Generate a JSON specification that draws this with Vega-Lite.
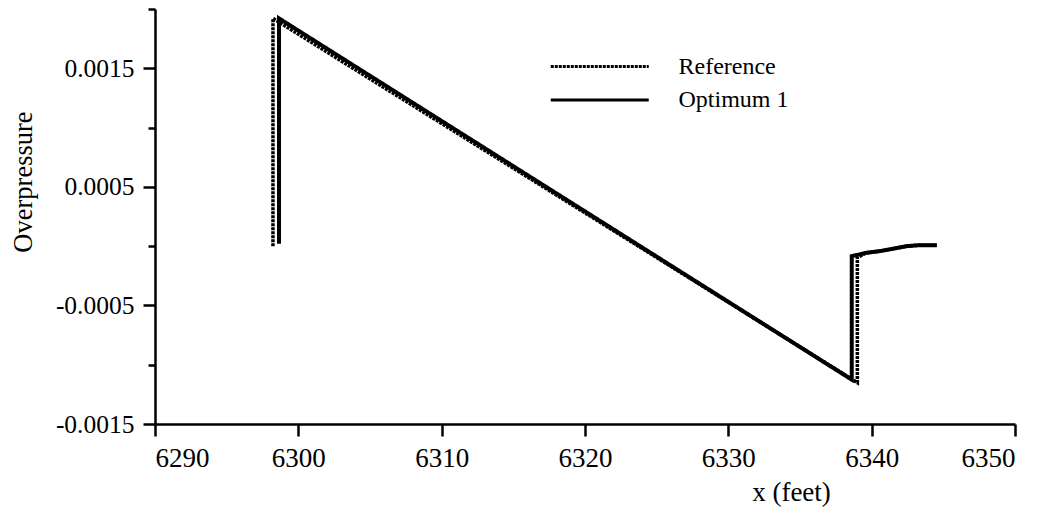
{
  "$schema": "https://vega.github.io/schema/vega-lite/v6.json",
  "autosize": {"type": "none"},
  "width": 860,
  "height": 415,
  "padding": {"left": 155, "top": 9, "right": 34, "bottom": 92},
  "background": "white",
  "config": {
    "view": {"stroke": null},
    "font": "Liberation Serif",
    "axis": {
      "domainColor": "black",
      "domainWidth": 2.5,
      "tickColor": "black",
      "tickWidth": 2.5,
      "grid": false,
      "labelColor": "black",
      "titleColor": "black",
      "labelFont": "Liberation Serif",
      "titleFont": "Liberation Serif",
      "titleFontWeight": "normal"
    }
  },
  "data": {
    "values": [
      {"series": "Reference", "i": 0, "x": 6298.23, "p": 0.0},
      {"series": "Reference", "i": 1, "x": 6298.23, "p": 0.001921},
      {"series": "Reference", "i": 2, "x": 6339.0, "p": -0.001151},
      {"series": "Reference", "i": 3, "x": 6339.0, "p": -0.000095},
      {"series": "Reference", "i": 4, "x": 6339.64, "p": -0.000056},
      {"series": "Reference", "i": 5, "x": 6340.57, "p": -0.000042},
      {"series": "Reference", "i": 6, "x": 6341.48, "p": -0.000022},
      {"series": "Reference", "i": 7, "x": 6342.44, "p": 0.0},
      {"series": "Reference", "i": 8, "x": 6343.37, "p": 0.0000084},
      {"series": "Reference", "i": 9, "x": 6344.54, "p": 0.0000084},
      {"series": "Optimum 1", "i": 0, "x": 6298.65, "p": 0.00002},
      {"series": "Optimum 1", "i": 1, "x": 6298.65, "p": 0.001921},
      {"series": "Optimum 1", "i": 2, "x": 6338.61, "p": -0.001126},
      {"series": "Optimum 1", "i": 3, "x": 6338.61, "p": -0.0000845},
      {"series": "Optimum 1", "i": 4, "x": 6339.64, "p": -0.000056},
      {"series": "Optimum 1", "i": 5, "x": 6340.57, "p": -0.000042},
      {"series": "Optimum 1", "i": 6, "x": 6341.48, "p": -0.000022},
      {"series": "Optimum 1", "i": 7, "x": 6342.44, "p": 0.0},
      {"series": "Optimum 1", "i": 8, "x": 6343.37, "p": 0.0000084},
      {"series": "Optimum 1", "i": 9, "x": 6344.54, "p": 0.0000084}
    ]
  },
  "encoding": {
    "x": {
      "field": "x",
      "type": "quantitative",
      "scale": {"domain": [6290, 6350], "nice": false, "zero": false},
      "axis": {
        "values": [6290, 6300, 6310, 6320, 6330, 6340, 6350],
        "format": "d",
        "tickSize": 12,
        "labelFontSize": 27,
        "labelBaseline": "alphabetic",
        "labelPadding": 30,
        "title": "x (feet)",
        "titleFontSize": 27,
        "titleAnchor": null,
        "titleAlign": "center",
        "titleBaseline": "alphabetic",
        "titleX": 636,
        "titleY": 76
      }
    },
    "y": {
      "field": "p",
      "type": "quantitative",
      "scale": {"domain": [-0.0015, 0.002], "nice": false, "zero": false},
      "axis": {
        "values": [-0.0015, -0.001, -0.0005, 0, 0.0005, 0.001, 0.0015, 0.002],
        "labelExpr": "round(datum.value * 10000) % 10 != 0 ? (datum.value < 0 ? '-' : '') + format(abs(datum.value), '.4f') : ''",
        "tickSize": {"condition": {"test": "round(datum.value * 10000) % 10 != 0", "value": 12}, "value": 7},
        "labelFontSize": 25.5,
        "labelPadding": 9,
        "labelBaseline": "middle",
        "title": "Overpressure",
        "titleFontSize": 26.5,
        "titleAngle": -90,
        "titleAnchor": null,
        "titleAlign": "center",
        "titleBaseline": "alphabetic",
        "titleX": -124,
        "titleY": 172.5
      }
    },
    "order": {"field": "i", "type": "quantitative"},
    "strokeDash": {
      "field": "series",
      "type": "nominal",
      "scale": {"domain": ["Reference", "Optimum 1"], "range": [[3, 1], [1, 0]]},
      "legend": {
        "title": null,
        "orient": "none",
        "legendX": 430.75,
        "legendY": 43.5,
        "padding": 0,
        "symbolType": "M-4,0H4",
        "symbolSize": 600,
        "symbolStrokeWidth": 3,
        "symbolStrokeColor": "black",
        "symbolFillColor": "transparent",
        "labelFont": "Liberation Serif",
        "labelFontSize": 24,
        "labelColor": "black",
        "labelOffset": 64.75,
        "rowPadding": 7.5
      }
    }
  },
  "layer": [
    {
      "transform": [{"filter": "datum.series == 'Reference'"}],
      "mark": {"type": "line", "color": "black", "strokeWidth": 3.5, "strokeCap": "butt"}
    },
    {
      "transform": [{"filter": "datum.series == 'Optimum 1'"}],
      "mark": {"type": "line", "color": "black", "strokeWidth": 4, "strokeCap": "butt"}
    }
  ]
}
